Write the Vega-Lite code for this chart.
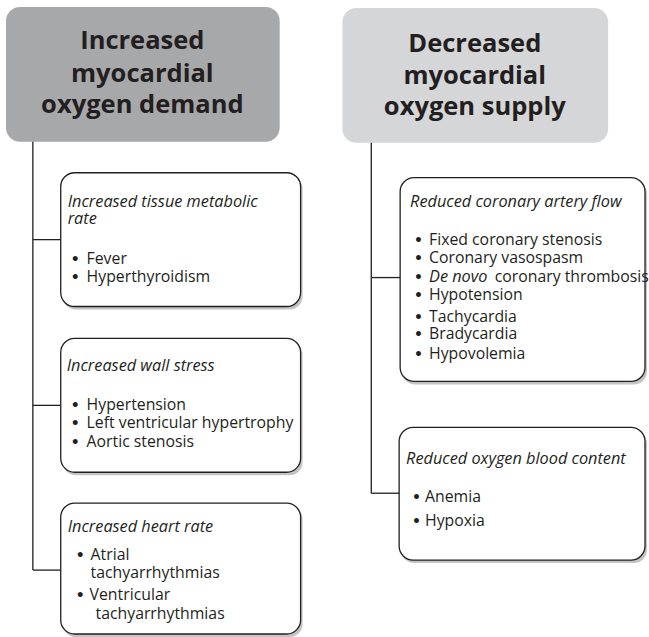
{
  "$schema": "https://vega.github.io/schema/vega-lite/v6.json",
  "width": 649,
  "height": 637,
  "padding": 0,
  "autosize": {"type": "fit", "contains": "padding"},
  "background": "#ffffff",
  "config": {"view": {"stroke": null}},
  "datasets": {
    "boxes": [
      {"box": "demand", "kind": "header", "x": 6, "x2": 281, "y": 7, "y2": 142},
      {"box": "supply", "kind": "header", "x": 344, "x2": 611, "y": 8, "y2": 143},
      {"box": "metabolic", "kind": "item", "x": 61, "x2": 302, "y": 173, "y2": 307},
      {"box": "wall", "kind": "item", "x": 61, "x2": 302, "y": 339, "y2": 473},
      {"box": "heartrate", "kind": "item", "x": 61, "x2": 302, "y": 504, "y2": 635},
      {"box": "flow", "kind": "item", "x": 402, "x2": 648, "y": 178, "y2": 382},
      {"box": "content", "kind": "item", "x": 401, "x2": 648, "y": 428, "y2": 561}
    ],
    "links": [
      {"x": 33, "x2": 33, "y": 142, "y2": 571},
      {"x": 33, "x2": 61, "y": 240, "y2": 240},
      {"x": 33, "x2": 61, "y": 406, "y2": 406},
      {"x": 33, "x2": 61, "y": 571, "y2": 571},
      {"x": 373, "x2": 373, "y": 143, "y2": 494},
      {"x": 373, "x2": 402, "y": 278, "y2": 278},
      {"x": 373, "x2": 401, "y": 494, "y2": 494}
    ],
    "labels": [
      {"role": "header", "text": "Increased", "x": 143, "y": 49},
      {"role": "header", "text": "myocardial", "x": 143, "y": 82},
      {"role": "header", "text": "oxygen demand", "x": 143, "y": 113},
      {"role": "header", "text": "Decreased", "x": 477, "y": 52},
      {"role": "header", "text": "myocardial", "x": 477, "y": 84},
      {"role": "header", "text": "oxygen supply", "x": 477, "y": 115},
      {"role": "title", "text": "Increased tissue metabolic", "x": 68, "y": 207},
      {"role": "title", "text": "rate", "x": 68, "y": 224},
      {"role": "title", "text": "Increased wall stress", "x": 67, "y": 372},
      {"role": "title", "text": "Increased heart rate", "x": 68, "y": 533},
      {"role": "title", "text": "Reduced coronary artery flow", "x": 412, "y": 207},
      {"role": "title", "text": "De novo", "x": 431, "y": 282},
      {"role": "title", "text": "Reduced oxygen blood content", "x": 408, "y": 465},
      {"role": "dot", "text": "•", "x": 71, "y": 264},
      {"role": "dot", "text": "•", "x": 71, "y": 282},
      {"role": "dot", "text": "•", "x": 71, "y": 411},
      {"role": "dot", "text": "•", "x": 71, "y": 429},
      {"role": "dot", "text": "•", "x": 71, "y": 448},
      {"role": "dot", "text": "•", "x": 76, "y": 561},
      {"role": "dot", "text": "•", "x": 76, "y": 601},
      {"role": "dot", "text": "•", "x": 416, "y": 245},
      {"role": "dot", "text": "•", "x": 416, "y": 263},
      {"role": "dot", "text": "•", "x": 416, "y": 282},
      {"role": "dot", "text": "•", "x": 416, "y": 300},
      {"role": "dot", "text": "•", "x": 416, "y": 323},
      {"role": "dot", "text": "•", "x": 416, "y": 340},
      {"role": "dot", "text": "•", "x": 416, "y": 360},
      {"role": "dot", "text": "•", "x": 414, "y": 503},
      {"role": "dot", "text": "•", "x": 414, "y": 527},
      {"role": "item", "text": "Fever", "x": 87, "y": 264},
      {"role": "item", "text": "Hyperthyroidism", "x": 87, "y": 282},
      {"role": "item", "text": "Hypertension", "x": 87, "y": 411},
      {"role": "item", "text": "Left ventricular hypertrophy", "x": 87, "y": 429},
      {"role": "item", "text": "Aortic stenosis", "x": 87, "y": 448},
      {"role": "item", "text": "Atrial", "x": 91, "y": 561},
      {"role": "item", "text": "tachyarrhythmias", "x": 91, "y": 579},
      {"role": "item", "text": "Ventricular", "x": 90, "y": 601},
      {"role": "item", "text": "tachyarrhythmias", "x": 96, "y": 620},
      {"role": "item", "text": "Fixed coronary stenosis", "x": 431, "y": 245},
      {"role": "item", "text": "Coronary vasospasm", "x": 431, "y": 263},
      {"role": "item", "text": "coronary thrombosis", "x": 497, "y": 282},
      {"role": "item", "text": "Hypotension", "x": 431, "y": 300},
      {"role": "item", "text": "Tachycardia", "x": 431, "y": 323},
      {"role": "item", "text": "Bradycardia", "x": 431, "y": 340},
      {"role": "item", "text": "Hypovolemia", "x": 431, "y": 360},
      {"role": "item", "text": "Anemia", "x": 427, "y": 503},
      {"role": "item", "text": "Hypoxia", "x": 427, "y": 527}
    ]
  },
  "encoding": {
    "x": {"field": "x", "type": "quantitative", "scale": {"domain": [0, 649], "nice": false, "zero": false}, "axis": null},
    "y": {"field": "y", "type": "quantitative", "scale": {"domain": [0, 637], "nice": false, "zero": false, "reverse": true}, "axis": null}
  },
  "layer": [
    {
      "data": {"name": "boxes"},
      "transform": [{"filter": "datum.kind === 'item'"}],
      "mark": {"type": "rect", "cornerRadius": 13, "fill": "#8a8a8a", "opacity": 0.5, "xOffset": 2, "yOffset": 3, "x2Offset": 2, "y2Offset": 3},
      "encoding": {"x2": {"field": "x2"}, "y2": {"field": "y2"}}
    },
    {
      "data": {"name": "boxes"},
      "mark": {"type": "rect", "cornerRadius": 14, "strokeWidth": 1.3},
      "encoding": {
        "x2": {"field": "x2"},
        "y2": {"field": "y2"},
        "fill": {"field": "box", "type": "nominal", "legend": null,
          "scale": {"domain": ["demand", "supply", "metabolic", "wall", "heartrate", "flow", "content"],
                    "range": ["#a7a8aa", "#d5d6d8", "#ffffff", "#ffffff", "#ffffff", "#ffffff", "#ffffff"]}},
        "stroke": {"field": "kind", "type": "nominal", "legend": null,
          "scale": {"domain": ["header", "item"], "range": ["transparent", "#231f20"]}}
      }
    },
    {
      "data": {"name": "links"},
      "mark": {"type": "rule", "color": "#231f20", "strokeWidth": 1.3},
      "encoding": {"x2": {"field": "x2"}, "y2": {"field": "y2"}}
    },
    {
      "data": {"name": "labels"},
      "transform": [{"filter": "datum.role === 'header'"}],
      "mark": {"type": "text", "align": "center", "baseline": "alphabetic", "font": "Open Sans", "fontWeight": "bold", "fontSize": 25.5, "color": "#231f20"},
      "encoding": {"text": {"field": "text"}}
    },
    {
      "data": {"name": "labels"},
      "transform": [{"filter": "datum.role === 'title'"}],
      "mark": {"type": "text", "align": "left", "baseline": "alphabetic", "font": "Open Sans", "fontStyle": "italic", "fontSize": 16.3, "color": "#231f20"},
      "encoding": {"text": {"field": "text"}}
    },
    {
      "data": {"name": "labels"},
      "transform": [{"filter": "datum.role === 'dot'"}],
      "mark": {"type": "text", "align": "left", "baseline": "alphabetic", "font": "DejaVu Sans", "fontWeight": "bold", "fontSize": 14, "color": "#231f20"},
      "encoding": {"text": {"field": "text"}}
    },
    {
      "data": {"name": "labels"},
      "transform": [{"filter": "datum.role === 'item'"}],
      "mark": {"type": "text", "align": "left", "baseline": "alphabetic", "font": "Open Sans", "fontSize": 15.8, "color": "#231f20"},
      "encoding": {"text": {"field": "text"}}
    }
  ]
}
